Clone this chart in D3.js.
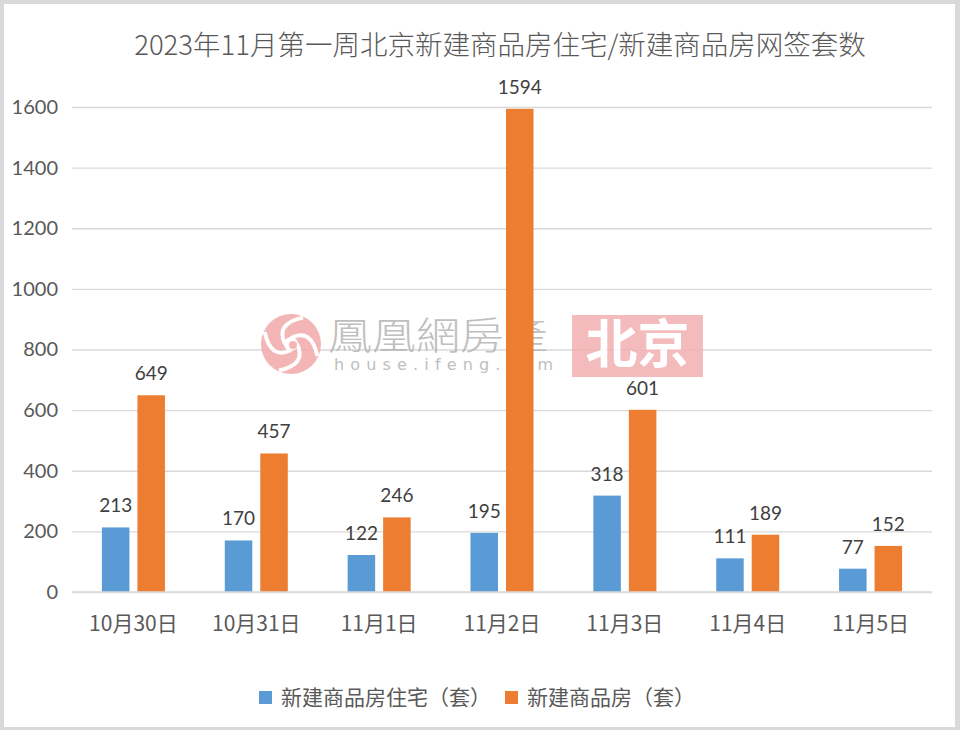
<!DOCTYPE html>
<html>
<head>
<meta charset="utf-8">
<script src="https://cdn.jsdelivr.net/npm/d3@7"></script>
<style>
  html, body { margin: 0; padding: 0; background: #fff; }
  svg { display: block; }
</style>
</head>
<body>
<svg id="chart" width="960" height="730"></svg>
<script>
const title = "2023年11月第一周北京新建商品房住宅/新建商品房网签套数";
const categories = ["10月30日", "10月31日", "11月1日", "11月2日", "11月3日", "11月4日", "11月5日"];
const seriesNames = ["新建商品房住宅（套）", "新建商品房（套）"];
const residential = [213, 170, 122, 195, 318, 111, 77];
const allNewHomes = [649, 457, 246, 1594, 601, 189, 152];
const yTicks = [0, 200, 400, 600, 800, 1000, 1200, 1400, 1600];
const colors = ["#5B9BD5", "#ED7D31"];

const svg = d3.select("#chart");
const W = 960, H = 730;
const numFont = "Lato, 'Noto Sans CJK SC', sans-serif";
const cjkFont = "'Noto Sans CJK SC', Lato, sans-serif";

// background + border
svg.append("rect").attr("x", 0).attr("y", 0).attr("width", W).attr("height", H).attr("fill", "#d9d9d9");
svg.append("rect").attr("x", 4).attr("y", 4).attr("width", W - 9).attr("height", H - 7).attr("fill", "#fff");

const plot = { left: 72, right: 932, top: 107, bottom: 592 };

const y = d3.scaleLinear().domain([0, 1600]).range([plot.bottom, plot.top]);
const x0 = d3.scaleBand().domain(categories).range([plot.left, plot.right])
  .paddingInner(0.487).paddingOuter(0.2435);
const x1 = d3.scaleBand().domain([0, 1]).range([0, x0.bandwidth()]).paddingInner(0.225).paddingOuter(0);

// title
svg.append("text").attr("x", 500).attr("y", 55).attr("text-anchor", "middle")
  .attr("font-family", "'Liberation Sans Narrow', 'Noto Sans CJK SC', sans-serif")
  .attr("font-weight", 300)
  .attr("font-size", 27.5).attr("fill", "#595959").text(title);

// gridlines
const yAxis = d3.axisLeft(y).tickValues(yTicks).tickFormat(d3.format("d"))
  .tickSize(-(plot.right - plot.left)).tickPadding(14);
const gy = svg.append("g").attr("transform", `translate(${plot.left},0)`).call(yAxis);
gy.select(".domain").remove();
gy.selectAll(".tick line").attr("stroke", "#d9d9d9").attr("stroke-width", 1.3);
gy.selectAll(".tick text").attr("font-family", numFont).attr("font-size", 20).attr("fill", "#595959");

// watermark (behind bars)
const wm = svg.append("g").attr("opacity", 0.85);
const lc = { x: 291, y: 344, r: 30 };
wm.append("circle").attr("cx", lc.x).attr("cy", lc.y).attr("r", lc.r).attr("fill", "#f2a9a9");
const swirl = d3.range(0, 4).map(i => {
  const a0 = i * Math.PI / 2;
  return `M${lc.x + 6 * Math.cos(a0)},${lc.y + 6 * Math.sin(a0)} ` +
    `Q${lc.x + 26 * Math.cos(a0 + 0.9)},${lc.y + 26 * Math.sin(a0 + 0.9)} ` +
    `${lc.x + 29 * Math.cos(a0 + 2.0)},${lc.y + 29 * Math.sin(a0 + 2.0)}`;
});
wm.selectAll("path.sw").data(swirl).enter().append("path").attr("class", "sw")
  .attr("d", d => d).attr("fill", "none").attr("stroke", "#fff").attr("stroke-width", 4);
wm.append("circle").attr("cx", lc.x).attr("cy", lc.y).attr("r", 7).attr("fill", "#fff");
wm.append("circle").attr("cx", lc.x + 2).attr("cy", lc.y + 1).attr("r", 4).attr("fill", "#f2a9a9");

wm.append("text").attr("x", 328).attr("y", 349)
  .attr("font-family", "'Noto Sans CJK TC', sans-serif").attr("font-weight", 300)
  .attr("font-size", 38).attr("textLength", 220).attr("lengthAdjust", "spacingAndGlyphs")
  .attr("fill", "#b4b4b4").text("鳳凰網房產");
wm.append("text").attr("x", 334).attr("y", 370)
  .attr("font-family", "'DejaVu Sans', sans-serif")
  .attr("font-size", 16).attr("textLength", 219).attr("lengthAdjust", "spacing")
  .attr("fill", "#b4b4b4").text("house.ifeng.com");
wm.append("rect").attr("x", 572).attr("y", 315).attr("width", 131).attr("height", 62).attr("fill", "#f3b0b2");
wm.append("text").attr("x", 637.5).attr("y", 363).attr("text-anchor", "middle")
  .attr("font-family", "'Noto Sans CJK SC', sans-serif").attr("font-weight", 700)
  .attr("font-size", 52).attr("fill", "#fff").text("北京");

// bars
const data = categories.map((c, i) => ({ cat: c, vals: [residential[i], allNewHomes[i]] }));
const groups = svg.append("g").selectAll("g").data(data).enter().append("g")
  .attr("transform", d => `translate(${x0(d.cat)},0)`);
groups.selectAll("rect").data(d => d.vals.map((v, k) => ({ v, k }))).enter().append("rect")
  .attr("x", d => x1(d.k)).attr("width", x1.bandwidth())
  .attr("y", d => y(d.v)).attr("height", d => y(0) - y(d.v))
  .attr("fill", d => colors[d.k]);
groups.selectAll("text.val").data(d => d.vals.map((v, k) => ({ v, k }))).enter().append("text")
  .attr("class", "val")
  .attr("x", d => x1(d.k) + x1.bandwidth() / 2).attr("y", d => y(d.v) - 15)
  .attr("text-anchor", "middle").attr("font-family", numFont).attr("font-size", 19)
  .attr("fill", "#404040").text(d => d.v);

// x axis
const xAxis = d3.axisBottom(x0).tickSize(0).tickPadding(24);
const gx = svg.append("g").attr("transform", `translate(0,${plot.bottom})`).call(xAxis);
gx.select(".domain").attr("stroke", "#d9d9d9").attr("stroke-width", 1.3)
  .attr("d", `M${plot.left},0H${plot.right}`);
gx.selectAll(".tick text").attr("font-family", cjkFont).attr("font-size", 21).attr("fill", "#595959");

// legend
const legendX = [259, 505];
const lg = svg.append("g").selectAll("g").data(seriesNames).enter().append("g")
  .attr("transform", (d, i) => `translate(${legendX[i]},691)`);
lg.append("rect").attr("width", 13).attr("height", 13).attr("fill", (d, i) => colors[i]);
lg.append("text").attr("x", 22).attr("y", 6.5).attr("dy", "0.35em")
  .attr("font-family", cjkFont).attr("font-size", 21).attr("fill", "#595959").text(d => d);
</script>
</body>
</html>
